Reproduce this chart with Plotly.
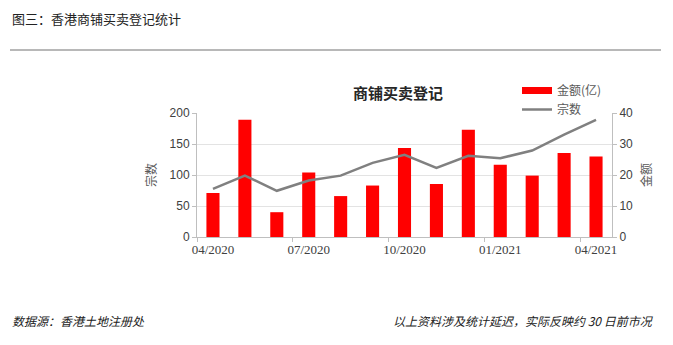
import plotly.graph_objects as go

months = ["04/2020", "05/2020", "06/2020", "07/2020", "08/2020", "09/2020", "10/2020",
          "11/2020", "12/2020", "01/2021", "02/2021", "03/2021", "04/2021"]
bar_values = [71, 189, 40, 104, 66, 83, 143.5, 85.5, 173, 116.5, 99, 135.5, 130]
line_values = [15.5, 19.8, 14.9, 18.2, 19.8, 23.9, 26.5, 22.3, 26.2, 25.4, 27.9, 33, 37.8]

W, H = 673, 345
L, R, T, B = 197, 612, 113, 237  # plot area pixels


def px(x):
    return (x - L) / (R - L)


def py(y):
    return (B - y) / (B - T)


cjk = "Noto Sans CJK SC, Noto Sans, sans-serif"

fig = go.Figure()
fig.add_trace(go.Bar(x=months, y=bar_values, name="金额(亿)", marker_color="#FF0000",
                     marker_line_width=0, yaxis="y", showlegend=False))
# legend entry for bars shown as a wide red swatch
fig.add_trace(go.Scatter(x=[None], y=[None], name="金额(亿)", mode="lines",
                         line=dict(color="#FF0000", width=7), yaxis="y"))
fig.add_trace(go.Scatter(x=months, y=line_values, name="宗数", mode="lines",
                         line=dict(color="#808080", width=2.5), yaxis="y2"))

fig.update_layout(
    width=W, height=H,
    margin=dict(l=L, r=W - R, t=T, b=H - B),
    plot_bgcolor="white", paper_bgcolor="white",
    bargap=0.59,
    showlegend=True,
    legend=dict(x=px(517), y=py(76), xanchor="left", yanchor="top",
                font=dict(family=cjk, size=12, color="#595959"),
                bgcolor="rgba(0,0,0,0)", tracegroupgap=0, itemwidth=30),
    xaxis=dict(type="category", categoryorder="array", categoryarray=months,
               range=[-0.5, len(months) - 0.5], dtick=3, tickson="boundaries",
               tickangle=0, automargin=False,
               showgrid=False, zeroline=False,
               showline=True, linecolor="#BFBFBF", linewidth=1,
               ticks="outside", ticklen=4, tickcolor="#BFBFBF",
               tickfont=dict(family="Liberation Serif, serif", size=13, color="#404040")),
    yaxis=dict(range=[0, 200], dtick=50, showgrid=True, gridcolor="#E3E3E3",
               zeroline=False, showline=True, linecolor="#BFBFBF", linewidth=1,
               ticks="outside", ticklen=4, tickcolor="#BFBFBF",
               tickfont=dict(family="Liberation Sans, sans-serif", size=12, color="#404040"),
               title=dict(text="宗数", font=dict(family=cjk, size=12, color="#595959"),
                          standoff=10)),
    yaxis2=dict(range=[0, 40], dtick=10, overlaying="y", side="right", showgrid=False,
                zeroline=False, showline=True, linecolor="#BFBFBF", linewidth=1,
                ticks="outside", ticklen=4, tickcolor="#BFBFBF",
                tickfont=dict(family="Liberation Sans, sans-serif", size=12, color="#404040"),
                title=dict(text="金额", font=dict(family=cjk, size=12, color="#595959"),
                           standoff=10)),
)

fig.add_annotation(text="<b>商铺买卖登记</b>", xref="paper", yref="paper",
                   x=px(398), y=py(93), xanchor="center", yanchor="middle",
                   showarrow=False, font=dict(family=cjk, size=15, color="#262626"))

fig.add_annotation(text="图三：香港商铺买卖登记统计", xref="paper", yref="paper",
                   x=px(10), y=py(18), xanchor="left", yanchor="middle",
                   showarrow=False, font=dict(family=cjk, size=13, color="#222222"))

fig.add_shape(type="line", xref="paper", yref="paper", x0=px(10), x1=px(661),
              y0=py(50), y1=py(50), line=dict(color="#A0A0A0", width=1.5))

fig.add_annotation(text="<i>数据源：香港土地注册处</i>", xref="paper", yref="paper",
                   x=px(10), y=py(320), xanchor="left", yanchor="middle",
                   showarrow=False, font=dict(family=cjk, size=12, color="#222222"))
fig.add_annotation(text="<i>以上资料涉及统计延迟，实际反映约 30 日前市况</i>", xref="paper",
                   yref="paper", x=px(656), y=py(320), xanchor="right", yanchor="middle",
                   showarrow=False, font=dict(family=cjk, size=12, color="#222222"))

fig.write_html("out.html")
